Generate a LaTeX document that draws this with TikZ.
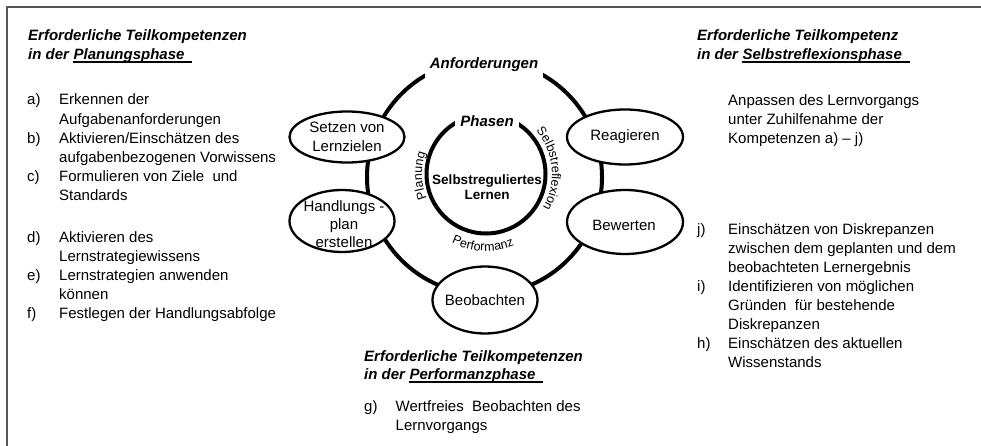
\documentclass[tikz,border=0pt]{standalone}
\usepackage{fontspec}
\setmainfont{Liberation Sans}
\usetikzlibrary{shapes.geometric,decorations.text,calc}
\definecolor{framegray}{RGB}{85,85,85}
\newcommand\lblfont{\fontsize{12.5}{14}\selectfont}
\begin{document}
\begin{tikzpicture}[x=1pt,y=1pt,
  txt/.style={anchor=base west, inner sep=0pt, font=\fontsize{15}{18}\selectfont},
  hd/.style={anchor=base west, inner sep=0pt, font=\fontsize{15}{18}\selectfont\bfseries\itshape},
  ul/.style={line width=1.4pt},
  ring/.style={line width=4pt},
  ell/.style={draw, ellipse, fill=white, line width=2.3pt, inner sep=0pt},
  lbl/.style={align=center, inner sep=0pt, font=\fontsize{15}{19}\selectfont},
  gap/.style={fill=white, inner ysep=6pt, inner xsep=5pt, font=\fontsize{15}{18}\selectfont\bfseries\itshape},
  arctext/.style={decorate, decoration={text along path, text align=center, text={|\lblfont|#1}}}
]
\useasboundingbox (0,0) rectangle (981,-446);
\draw[framegray, line width=2pt] (7,-446) -- (7,-7) -- (981,-7);

% rings
\coordinate (oc) at (484.5,-177);
\coordinate (ic) at (486,-174);
\draw[ring] (oc) circle[radius=117.5];
\draw[ring] (ic) circle[radius=59.5];
\node[gap] (anf) at (484,-65) {Anforderungen};
\node[gap] (pha) at (487,-121.5) {Phasen};

% ellipses
\node[ell, minimum width=115pt, minimum height=51pt] (setzen) at (347,-137) {};
\node[lbl] (setzenT) at (setzen) {Setzen von\\Lernzielen};
\node[ell, minimum width=105pt, minimum height=62pt] (hand) at (342,-221) {};
\node[lbl, font=\fontsize{15}{18}\selectfont] (handT) at (344,-224) {Handlungs -\\plan\\erstellen};
\node[ell, minimum width=116pt, minimum height=55pt] (reag) at (625,-137) {};
\node[lbl] (reagT) at (reag) {Reagieren};
\node[ell, minimum width=116pt, minimum height=64pt] (bew) at (625,-222) {};
\node[lbl] (bewT) at (624,-225) {Bewerten};
\node[ell, minimum width=105pt, minimum height=67pt] (beob) at (485,-300) {};
\node[lbl] (beobT) at (beob) {Beobachten};

% centre
\node[align=center, inner sep=0pt, font=\fontsize{13.5}{15.5}\selectfont\bfseries] (srl) at (487,-187) {Selbstreguliertes\\Lernen};
\path[arctext=Planung] ($(ic)+(230:64)$) arc[start angle=230, end angle=133, radius=64];
\path[arctext=Selbstreflexion] ($(ic)+(65:66)$) arc[start angle=65, end angle=-55, radius=66];
\path[arctext=Performanz] ($(ic)+(220:77)$) arc[start angle=220, end angle=315, radius=77];

% left column
\node[hd] (lhd1) at (28,-41) {Erforderliche Teilkompetenzen};
\node[hd] (lhd2) at (28,-59.5) {in der\hspace*{4.2pt}};
\node[hd] (lhd2u) at (lhd2.base east) {Planungsphase\hspace*{7.5pt}};
\draw[ul] ([yshift=-2.5pt]lhd2u.base west) -- ([yshift=-2.5pt]lhd2u.base east);
\node[txt] (la) at (27,-105) {a)};
\node[txt] (la1) at (59,-105) {Erkennen der};
\node[txt] (la2) at (59,-124.2) {Aufgabenanforderungen};
\node[txt] (lb) at (27,-143.4) {b)};
\node[txt] (lb1) at (59,-143.4) {Aktivieren/Einschätzen des};
\node[txt] (lb2) at (59,-162.6) {aufgabenbezogenen Vorwissens};
\node[txt] (lc) at (27,-181.8) {c)};
\node[txt] (lc1) at (59,-181.8) {Formulieren von Ziele\ \ und};
\node[txt] (lc2) at (59,-201) {Standards};
\node[txt] (ld) at (27,-242) {d)};
\node[txt] (ld1) at (59,-242) {Aktivieren des};
\node[txt] (ld2) at (59,-261.1) {Lernstrategiewissens};
\node[txt] (le) at (27,-280.2) {e)};
\node[txt] (le1) at (59,-280.2) {Lernstrategien anwenden};
\node[txt] (le2) at (59,-299.3) {können};
\node[txt] (lf) at (27,-318.4) {f)};
\node[txt] (lf1) at (59,-318.4) {Festlegen der Handlungsabfolge};

% right column
\node[hd] (rhd1) at (697,-41) {Erforderliche Teilkompetenz};
\node[hd] (rhd2) at (697,-59.5) {in der\hspace*{4.2pt}};
\node[hd] (rhd2u) at (rhd2.base east) {Selbstreflexionsphase\hspace*{7.5pt}};
\draw[ul] ([yshift=-2.5pt]rhd2u.base west) -- ([yshift=-2.5pt]rhd2u.base east);
\node[txt] (ra1) at (728,-106) {Anpassen des Lernvorgangs};
\node[txt] (ra2) at (728,-125) {unter Zuhilfenahme der};
\node[txt] (ra3) at (728,-144) {Kompetenzen a) – j)};
\node[txt] (rj) at (697,-234) {j)};
\node[txt] (rj1) at (728,-234) {Einschätzen von Diskrepanzen};
\node[txt] (rj2) at (728,-253.1) {zwischen dem geplanten und dem};
\node[txt] (rj3) at (728,-272.2) {beobachteten Lernergebnis};
\node[txt] (ri) at (697,-291.3) {i)};
\node[txt] (ri1) at (728,-291.3) {Identifizieren von möglichen};
\node[txt] (ri2) at (728,-310.4) {Gründen\ \ für bestehende};
\node[txt] (ri3) at (728,-329.5) {Diskrepanzen};
\node[txt] (rh) at (697,-348.6) {h)};
\node[txt] (rh1) at (728,-348.6) {Einschätzen des aktuellen};
\node[txt] (rh2) at (728,-367.7) {Wissenstands};

% bottom column
\node[hd] (bhd1) at (364,-361) {Erforderliche Teilkompetenzen};
\node[hd] (bhd2) at (364,-379.5) {in der\hspace*{4.2pt}};
\node[hd] (bhd2u) at (bhd2.base east) {Performanzphase\hspace*{7.5pt}};
\draw[ul] ([yshift=-2.5pt]bhd2u.base west) -- ([yshift=-2.5pt]bhd2u.base east);
\node[txt] (bg) at (364,-411) {g)};
\node[txt] (bg1) at (395.5,-411) {Wertfreies\ \ Beobachten des};
\node[txt] (bg2) at (395.5,-430) {Lernvorgangs};
\end{tikzpicture}
\end{document}
